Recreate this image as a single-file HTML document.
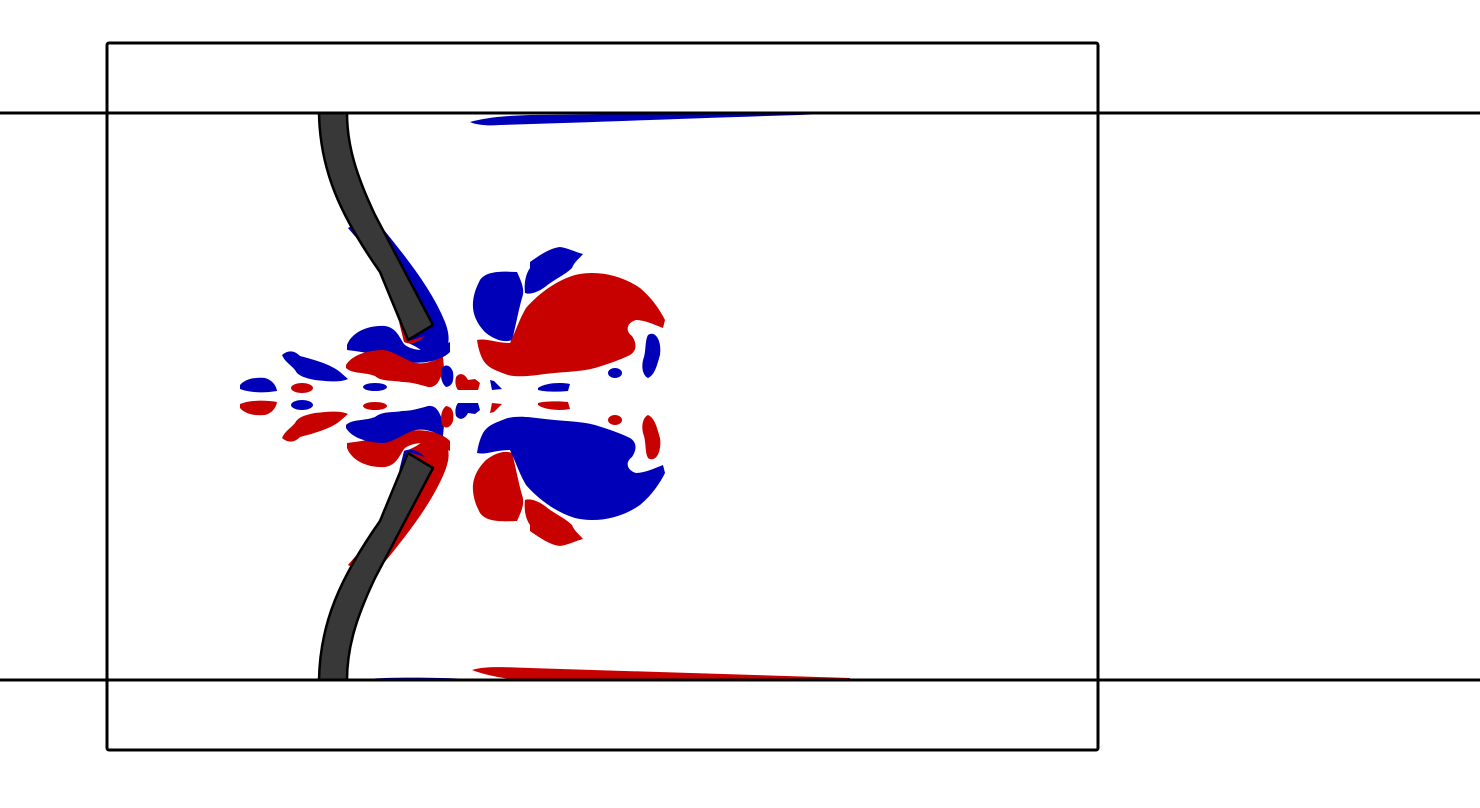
<!DOCTYPE html>
<html><head><meta charset="utf-8"><style>html,body{margin:0;padding:0;background:#fff}svg{display:block}
.b{fill:var(--b)}.r{fill:var(--r)}
.up{--b:#0000b8;--r:#c70000}
.lo{--b:#c70000;--r:#0000b8}
</style></head>
<body>
<svg width="1480" height="808" viewBox="0 0 1480 808">
<defs>
<g id="upper">
  <path class="b" d="M348,228 L372,215 C400,250 430,285 445,322 C452,340 448,350 440,355 L432,360 C425,352 415,345 405,342 L433,325 L385,270 C372,255 358,240 348,228 Z"/>
  <path class="r" d="M399,322 L409,341 L425,336 C418,343 410,345 404,342 Z"/>
  <path class="b" d="M347,345 C352,332 368,325 385,326 C398,328 400,340 405,345 C415,352 430,352 450,342 L450,352 C440,362 420,365 400,361 C385,356 365,352 347,350 Z"/>
  <path class="r" d="M346,365 C352,355 368,350 384,350 C395,352 402,358 412,362 C425,366 435,360 443,357 L444,368 C440,380 437,388 428,387 C418,384 410,382 402,382 C392,380 382,382 375,376 C365,372 352,374 346,368 Z"/>
  <path class="b" d="M282,355 C288,350 294,350 300,356 C315,360 330,364 340,372 L348,379 C340,383 325,381 315,380 C305,378 298,376 295,370 C290,364 285,362 282,355 Z"/>
  <path class="b" d="M240,385 C245,379 255,377 265,378 C272,380 276,385 277,391 C265,393 250,393 240,389 Z"/>
  <ellipse class="r" cx="302" cy="388" rx="11" ry="5"/>
  <ellipse class="b" cx="375" cy="387" rx="12" ry="4"/>
  <path class="b" d="M442,368 C446,363 451,366 453,372 C454,380 453,386 446,387 C441,383 440,375 442,368 Z"/>
  <path class="r" d="M456,377 C460,372 465,374 468,380 L475,379 L480,383 L478,390 L458,390 C455,386 455,381 456,377 Z"/>
  <path class="b" d="M490,380 L494,381 L502,389 L492,390 Z"/>
  <path class="b" d="M538,388 C545,383 560,382 570,384 L568,391 C558,392 545,392 538,390 Z"/>
  <path class="b" d="M480,280 C486,272 497,271 517,272 C522,283 525,290 522,298 C518,312 516,325 512,340 C505,343 495,340 486,333 C478,325 472,315 473,302 C474,292 477,286 480,280 Z"/>
  <path class="b" d="M530,262 C540,255 550,248 560,247 C568,248 575,252 583,254 C580,258 574,262 572,268 C565,275 553,280 545,287 C538,292 530,295 525,293 C524,285 525,275 530,268 Z"/>
  <path class="r" d="M477,340 C487,338 495,343 510,343 C516,330 520,318 526,308 C540,292 558,280 575,275 C595,270 620,274 640,288 C652,298 660,310 665,320 L663,328 C655,325 645,320 636,320 C628,322 624,330 632,336 C636,342 638,350 630,355 C620,360 605,365 595,368 C580,372 560,372 545,374 C530,376 515,378 505,374 C495,370 488,368 483,360 C479,352 478,346 477,340 Z"/>
  <path class="b" d="M648,335 C655,330 662,340 660,355 C657,365 655,375 648,378 C642,375 641,365 644,357 C646,350 645,340 648,335 Z"/>
  <ellipse class="b" cx="615" cy="373" rx="7" ry="5"/>
</g>
</defs>
<g class="up">
  <use href="#upper"/>
</g>
<g class="lo">
  <use href="#upper" transform="matrix(1,0,0,-1,0,793)"/>
</g>
<path d="M470,122 C485,118 500,116 530,115 L830,113 L830,114 C700,118 600,122 500,125 C488,126 476,125 470,122 Z" fill="#0000b8"/>
<path d="M472,670 C485,666 500,667 530,668 L850,678 L850,679 L520,680 C500,678 485,675 472,670 Z" fill="#c70000"/>
<path d="M350,680 C380,677 430,677 470,679 L470,680 Z" fill="#0000b8"/>
<path d="M319,113 C320,170 340,215 380,272 L408,340 L433,325 L375,215 C356,175 347,145 347,113 Z" fill="#383838" stroke="#000" stroke-width="2.5" stroke-linejoin="round"/>
<path d="M319,680 C320,623 340,578 380,521 L408,453 L433,468 L375,578 C356,618 347,648 347,680 Z" fill="#383838" stroke="#000" stroke-width="2.5" stroke-linejoin="round"/>
<rect x="107" y="43" width="991" height="707" fill="none" stroke="#000" stroke-width="3" rx="2"/>
<line x1="0" y1="113" x2="1480" y2="113" stroke="#000" stroke-width="3"/>
<line x1="0" y1="680" x2="1480" y2="680" stroke="#000" stroke-width="3"/>
</svg>
</body></html>
